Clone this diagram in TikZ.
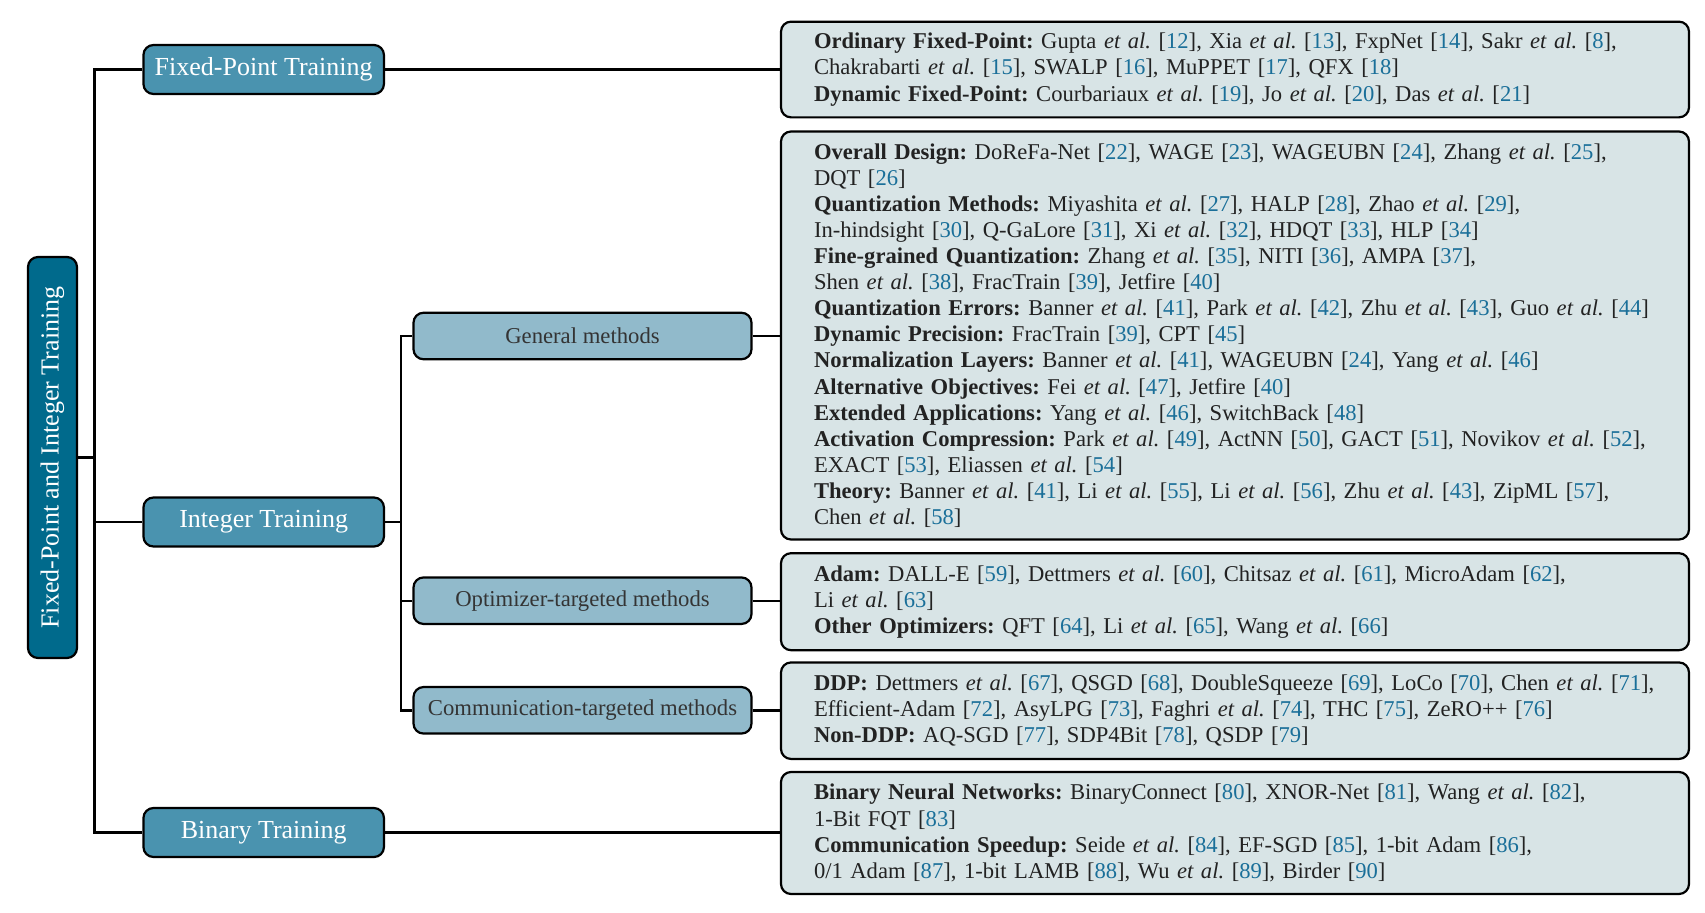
\documentclass[tikz,border=0pt]{standalone}
\usepackage{fontspec}
\setmainfont{Liberation Serif}
\frenchspacing
\definecolor{rootc}{HTML}{006A8C}
\definecolor{lvla}{HTML}{4A93AF}
\definecolor{lvlb}{HTML}{91BACB}
\definecolor{leafc}{HTML}{D8E4E6}
\definecolor{citec}{HTML}{1A6F99}
\definecolor{txtc}{HTML}{222222}
\newcommand{\etal}{\textit{et al.}}
\newcommand{\citx}[1]{[\textcolor{citec}{#1}]}
\begin{document}
\begin{tikzpicture}[x=0.5pt,y=-0.5pt,
  conn/.style={line width=1.2pt},
  rootbox/.style={draw=black,line width=1.1pt,fill=rootc,rounded corners=5pt,text=white,
    rotate=90,minimum width=200.5pt,minimum height=24.5pt,inner sep=0pt,
    font={\fontsize{13}{15}\selectfont}},
  lvlabox/.style={draw=black,line width=1.1pt,fill=lvla,rounded corners=5pt,text=white,
    minimum width=120.25pt,minimum height=24.5pt,inner sep=0pt,
    font={\fontsize{13}{15}\selectfont}},
  lvlbbox/.style={draw=black,line width=1.1pt,fill=lvlb,rounded corners=5pt,text=txtc!92!white,
    minimum width=169pt,minimum height=23.25pt,inner sep=0pt,
    font={\fontsize{11.35}{13}\selectfont}},
  leafbox/.style={draw=black,line width=1.1pt,fill=leafc,rounded corners=5pt,text=txtc,
    text width=421pt,inner xsep=16.5pt,inner ysep=0pt,align=left,
    font={\fontsize{11.3}{13.05}\selectfont}}
]
\useasboundingbox (0,0) rectangle (1705,912);

\node[rootbox] (root) at (52.5,457.5) {Fixed-Point and Integer Training};

\node[lvlabox] (fp)  at (263.7,69.5)  {Fixed-Point Training};
\node[lvlabox] (int) at (263.7,522)   {Integer Training};
\node[lvlabox] (bin) at (263.7,832.5) {Binary Training};

\node[lvlbbox] (gen) at (582.5,336)   {General methods};
\node[lvlbbox] (opt) at (582.5,600.7) {Optimizer-targeted methods};
\node[lvlbbox] (com) at (582.5,710.3) {Communication-targeted methods};

\node[leafbox,minimum height=47.85pt] (l1) at (1235,69.5) {%
\textbf{Ordinary Fixed-Point:} Gupta \etal{} \citx{12}, Xia \etal{} \citx{13}, FxpNet \citx{14}, Sakr \etal{} \citx{8},\\
Chakrabarti \etal{} \citx{15}, SWALP \citx{16}, MuPPET \citx{17}, QFX \citx{18}\\
\textbf{Dynamic Fixed-Point:} Courbariaux \etal{} \citx{19}, Jo \etal{} \citx{20}, Das \etal{} \citx{21}};

\node[leafbox,minimum height=204pt] (l2) at (1235,335.5) {%
\textbf{Overall Design:} DoReFa-Net \citx{22}, WAGE \citx{23}, WAGEUBN \citx{24}, Zhang \etal{} \citx{25},\\
DQT \citx{26}\\
\textbf{Quantization Methods:} Miyashita \etal{} \citx{27}, HALP \citx{28}, Zhao \etal{} \citx{29},\\
In-hindsight \citx{30}, Q-GaLore \citx{31}, Xi \etal{} \citx{32}, HDQT \citx{33}, HLP \citx{34}\\
\textbf{Fine-grained Quantization:} Zhang \etal{} \citx{35}, NITI \citx{36}, AMPA \citx{37},\\
Shen \etal{} \citx{38}, FracTrain \citx{39}, Jetfire \citx{40}\\
\textbf{Quantization Errors:} Banner \etal{} \citx{41}, Park \etal{} \citx{42}, Zhu \etal{} \citx{43}, Guo \etal{} \citx{44}\\
\textbf{Dynamic Precision:} FracTrain \citx{39}, CPT \citx{45}\\
\textbf{Normalization Layers:} Banner \etal{} \citx{41}, WAGEUBN \citx{24}, Yang \etal{} \citx{46}\\
\textbf{Alternative Objectives:} Fei \etal{} \citx{47}, Jetfire \citx{40}\\
\textbf{Extended Applications:} Yang \etal{} \citx{46}, SwitchBack \citx{48}\\
\textbf{Activation Compression:} Park \etal{} \citx{49}, ActNN \citx{50}, GACT \citx{51}, Novikov \etal{} \citx{52},\\
EXACT \citx{53}, Eliassen \etal{} \citx{54}\\
\textbf{Theory:} Banner \etal{} \citx{41}, Li \etal{} \citx{55}, Li \etal{} \citx{56}, Zhu \etal{} \citx{43}, ZipML \citx{57},\\
Chen \etal{} \citx{58}};

\node[leafbox,minimum height=48.5pt] (l3) at (1235,601.7) {%
\textbf{Adam:} DALL-E \citx{59}, Dettmers \etal{} \citx{60}, Chitsaz \etal{} \citx{61}, MicroAdam \citx{62},\\
Li \etal{} \citx{63}\\
\textbf{Other Optimizers:} QFT \citx{64}, Li \etal{} \citx{65}, Wang \etal{} \citx{66}};

\node[leafbox,minimum height=48.25pt] (l4) at (1235,710.7) {%
\textbf{DDP:} Dettmers \etal{} \citx{67}, QSGD \citx{68}, DoubleSqueeze \citx{69}, LoCo \citx{70}, Chen \etal{} \citx{71},\\
Efficient-Adam \citx{72}, AsyLPG \citx{73}, Faghri \etal{} \citx{74}, THC \citx{75}, ZeRO++ \citx{76}\\
\textbf{Non-DDP:} AQ-SGD \citx{77}, SDP4Bit \citx{78}, QSDP \citx{79}};

\node[leafbox,minimum height=61pt] (l5) at (1235,833) {%
\textbf{Binary Neural Networks:} BinaryConnect \citx{80}, XNOR-Net \citx{81}, Wang \etal{} \citx{82},\\
1-Bit FQT \citx{83}\\
\textbf{Communication Speedup:} Seide \etal{} \citx{84}, EF-SGD \citx{85}, 1-bit Adam \citx{86},\\
0/1 Adam \citx{87}, 1-bit LAMB \citx{88}, Wu \etal{} \citx{89}, Birder \citx{90}};

\coordinate (tk) at (94.5,0);
\coordinate (st) at (401,0);

\draw[conn] (root.south) -- (root.south -| tk);
\draw[conn] (fp.west) -- (fp.west -| tk) -- (bin.west -| tk) -- (bin.west);
\draw[conn] (int.west) -- (int.west -| tk);
\draw[conn] (int.east) -- (int.east -| st);
\draw[conn] (gen.west) -- (gen.west -| st) -- (com.west -| st) -- (com.west);
\draw[conn] (opt.west) -- (opt.west -| st);
\draw[conn] (fp.east) -- (fp.east -| l1.west);
\draw[conn] (gen.east) -- (gen.east -| l2.west);
\draw[conn] (opt.east) -- (opt.east -| l3.west);
\draw[conn] (com.east) -- (com.east -| l4.west);
\draw[conn] (bin.east) -- (bin.east -| l5.west);
\end{tikzpicture}
\end{document}
